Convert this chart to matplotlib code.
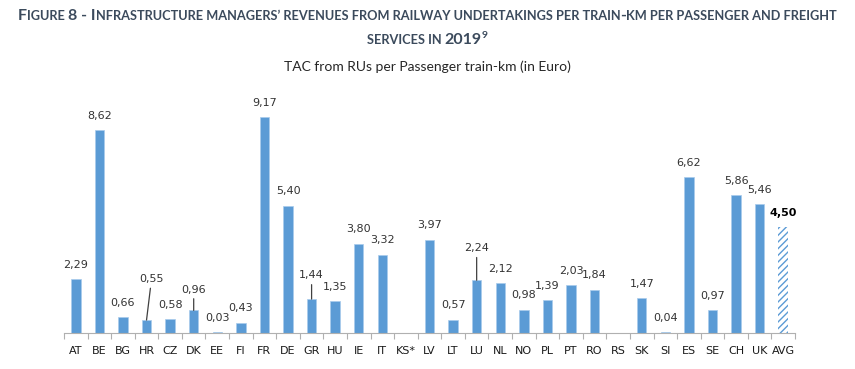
import numpy as np
import matplotlib
matplotlib.use("Agg")
import matplotlib.pyplot as plt

countries = ["AT", "BE", "BG", "HR", "CZ", "DK", "EE", "FI", "FR", "DE", "GR", "HU",
             "IE", "IT", "KS*", "LV", "LT", "LU", "NL", "NO", "PL", "PT", "RO", "RS",
             "SK", "SI", "ES", "SE", "CH", "UK", "AVG"]
tac = [2.29, 8.62, 0.66, 0.55, 0.58, 0.96, 0.03, 0.43, 9.17, 5.40, 1.44, 1.35,
       3.80, 3.32, np.nan, 3.97, 0.57, 2.24, 2.12, 0.98, 1.39, 2.03, 1.84, np.nan,
       1.47, 0.04, 6.62, 0.97, 5.86, 5.46, 4.50]

# labels pulled away from their bar, with a leader line (dx, dy in points)
leader = {"HR": (3.6, 29.5), "DK": (0, 15), "GR": (0, 17), "LU": (0, 23)}

blue = "#5B9BD5"
title_col = "#3b4a5c"
text_col = "#333333"
W, H = 855, 369

plt.rcParams['hatch.linewidth'] = 1.0
fig = plt.figure(figsize=(W / 100, H / 100), dpi=100)
renderer = fig.canvas.get_renderer()
title_font = ['Liberation Sans Narrow', 'Lato', 'DejaVu Sans']


def caps_line(parts, y_px, scale=None, target=None):
    # fake small caps: pieces of text sharing one baseline
    texts = []
    for s, size, rise in parts:
        t = fig.text(0, 0, s, fontsize=size, fontweight='bold', family=title_font,
                     color=title_col, va='baseline', ha='left')
        texts.append((t, size, rise))
    widths = [t.get_window_extent(renderer).width for t, _, _ in texts]
    if scale is None:
        scale = target / sum(widths)
    for t, size, _ in texts:
        t.set_fontsize(size * scale)
    widths = [t.get_window_extent(renderer).width for t, _, _ in texts]
    x = (W - sum(widths)) / 2
    for (t, size, rise), w in zip(texts, widths):
        t.set_position((x / W, 1 - (y_px - rise * scale) / H))
        x += w
    return scale


B, S = 10, 8
line1 = [("F", B, 0), ("IGURE ", S, 0), ("8 - I", B, 0),
         ("NFRASTRUCTURE MANAGERS\u2019 REVENUES FROM RAILWAY UNDERTAKINGS PER TRAIN", S, 0),
         ("-", B, 0), ("KM PER PASSENGER AND FREIGHT", S, 0)]
line2 = [("SERVICES IN ", S, 0), ("2019", B, 0), ("9", 6.5, 5)]
sc = caps_line(line1, 19.5, target=820)
caps_line(line2, 43.5, scale=sc)

fig.text(0.5, 1 - 71 / H, "TAC from RUs per Passenger train-km (in Euro)",
         ha='center', va='baseline', fontsize=10, family=['Lato', 'DejaVu Sans'],
         color="#262626")

ax = fig.add_axes([64 / W, 36 / H, (795 - 64) / W, 0.638])
x = np.arange(len(countries))
vals = np.array(tac)
ax.bar(x[:-1], vals[:-1], width=0.4, color=blue, edgecolor="#a9cbec", linewidth=0.5)
ax.bar(x[-1:], vals[-1:], width=0.4, color="white", edgecolor=blue, hatch="/////",
       linewidth=0)

for i, (c, v) in enumerate(zip(countries, tac)):
    if np.isnan(v):
        continue
    lab = f"{v:.2f}".replace(".", ",")
    weight = 'bold' if c == "AVG" else 'normal'
    col = "black" if c == "AVG" else text_col
    if c in leader:
        dx, dy = leader[c]
        ax.annotate(lab, xy=(i, v), xytext=(dx, dy), textcoords='offset points',
                    ha='center', va='center', fontsize=8, color=col,
                    arrowprops=dict(arrowstyle='-', color='#404040', lw=0.9,
                                    shrinkA=1, shrinkB=0))
    else:
        ax.annotate(lab, xy=(i, v), xytext=(0, 10.4), textcoords='offset points',
                    ha='center', va='center', fontsize=8, color=col, fontweight=weight)

ax.set_xlim(-0.5, len(countries) - 0.5)
ax.set_ylim(0, 10)
ax.set_xticks(np.arange(-0.5, len(countries), 1))
ax.set_xticklabels([])
ax.set_xticks(x, minor=True)
ax.set_xticklabels(countries, minor=True, fontsize=8, color="#1a1a1a")
ax.tick_params(axis='x', which='major', length=4, color="#b0b0b0", width=0.8)
ax.tick_params(axis='x', which='minor', length=0, pad=9.5)
ax.set_yticks([])
for s in ['top', 'right', 'left']:
    ax.spines[s].set_visible(False)
ax.spines['bottom'].set_color("#b0b0b0")
ax.spines['bottom'].set_linewidth(0.8)

fig.savefig("out.png", dpi=100)
